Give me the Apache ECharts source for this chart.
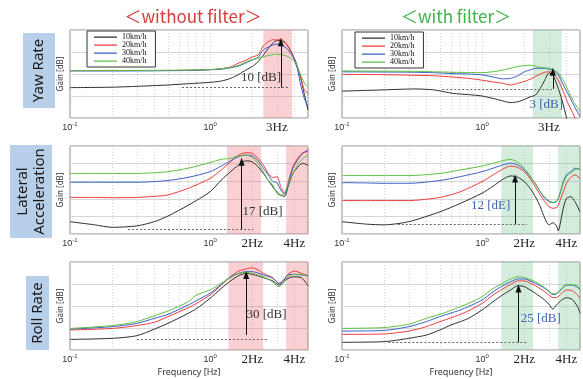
<!DOCTYPE html>
<html><head><meta charset="utf-8">
<script src="https://cdn.jsdelivr.net/npm/echarts@6/dist/echarts.min.js"></script>
<style>html,body{margin:0;padding:0;background:#fff}#c{width:583px;height:379px}</style>
</head><body><div id="c"></div>
<script>
// ---------- data ----------
const speeds = ['10km/h', '20km/h', '30km/h', '40km/h'];

// Yaw rate, without filter
const yawNoFreq = [0.1,0.2,0.3,0.5,0.7,1.0,1.2,1.4,1.6,1.8,2.0,2.2,2.4,2.6,2.8,3.0,3.2,3.5,3.8,4.1,4.4,4.7,5.0];
const yawNo10 = [6.9,7.0,7.2,7.5,7.8,8.1,8.4,9.0,9.9,10.9,11.7,12.8,14.3,15.8,17.0,17.6,17.6,16.8,15.0,12.2,9.6,5.5,1.8];
const yawNo20 = [10.75,10.75,10.8,10.8,10.85,11.0,11.2,11.6,12.5,13.1,13.9,14.3,16.4,17.3,17.8,17.7,17.95,16.8,15.0,12.7,9.5,6.5,5.5];
const yawNo30 = [10.7,10.7,10.7,10.75,10.8,10.95,11.1,11.4,11.8,12.5,13.2,13.75,15.5,16.1,16.6,16.8,16.6,15.9,14.5,12.7,8.0,4.5,2.5];
const yawNo40 = [10.8,10.8,10.8,10.85,10.9,11.0,11.2,11.5,12.0,12.7,13.3,13.6,13.9,14.2,14.4,14.5,14.4,14.1,13.5,12.5,10.0,8.0,7.0];

// Yaw rate, with filter
const yawFiFreq = [0.1,0.2,0.33,0.45,0.62,0.8,1.0,1.25,1.4,1.6,1.8,2.0,2.2,2.4,2.6,2.8,3.0,3.2,3.5,3.8,4.15,4.5,5.0];
const yawFi10 = [6.1,6.4,6.6,6.4,5.6,5.3,5.0,4.3,3.9,3.5,3.7,4.2,4.8,5.2,6.7,8.6,10.2,9.8,6.7,3.0,-2,-6,-10];
const yawFi20 = [9.9,9.85,9.7,9.6,9.3,9.0,8.6,8.1,7.9,7.5,7.9,8.3,8.8,9.4,10.0,10.4,10.5,10.2,8.6,6.0,3.0,0.7,-3];
const yawFi30 = [10.5,10.45,10.4,10.3,10.1,10.0,9.8,9.2,8.9,9.0,9.6,10.5,10.9,11.3,11.3,11.3,11.1,10.9,9.8,7.5,5.2,3.0,0.3];
const yawFi40 = [10.7,10.65,10.6,10.5,10.4,10.35,10.3,10.6,10.9,11.3,11.7,11.9,12.0,11.8,11.5,11.4,11.3,11.0,10.2,8.6,6.0,3.8,1.4];

// Lateral acceleration, without filter
const latNoFreq = [0.1,0.15,0.2,0.3,0.4,0.5,0.7,1.0,1.2,1.4,1.6,1.8,2.0,2.2,2.4,2.6,2.8,3.0,3.2,3.4,3.6,3.9,4.3,4.6,5.0];
const latNo10 = [3.5,2.6,1.9,2.3,3.5,5.1,8.2,12.0,15.3,17.7,19.6,20.8,20.5,19.1,17.2,15.3,13.4,12.0,11.0,10.7,13.4,17.2,19.3,20.1,19.5];
const latNo20 = [10.4,10.4,10.3,10.4,10.7,11.1,13.0,15.8,18.2,20.5,22.4,23.1,22.9,21.5,19.6,17.2,16.0,16.3,13.4,11.6,14.4,19.1,22.0,23.1,23.4];
const latNo30 = [14.7,14.7,14.7,14.7,14.9,15.2,16.1,17.7,19.3,20.8,22.0,22.4,22.2,20.8,18.7,16.8,14.9,14.6,12.5,11.4,13.9,18.7,21.5,22.9,23.9];
const latNo40 = [17.2,17.2,17.2,17.2,17.4,17.7,18.7,20.3,21.2,21.5,22.2,22.4,21.8,20.1,17.7,15.3,13.9,11.5,11.0,11.6,13.9,17.2,20.1,21.5,22.4];

// Lateral acceleration, with filter
const latFiFreq = [0.1,0.15,0.2,0.3,0.5,0.7,1.0,1.2,1.4,1.6,1.8,2.0,2.2,2.4,2.6,2.8,3.0,3.2,3.4,3.5,3.6,3.8,4.0,4.3,4.6,5.0];
const latFi10 = [3.5,2.8,2.6,3.5,6.3,8.7,11.6,13.6,15.5,16.5,16.1,14.9,13.0,10.6,7.8,4.5,2.6,3.2,2.3,0.9,2.6,7.3,10.1,10.6,9.2,6.3];
const latFi20 = [9.5,9.5,9.5,9.5,10.4,12.0,14.9,16.8,18.4,19.3,18.9,17.7,15.8,13.4,11.1,9.2,7.8,7.3,7.5,8.2,9.5,12.0,14.4,16.1,16.8,15.8];
const latFi30 = [14.6,14.5,14.4,14.4,15.2,16.3,17.7,18.7,19.6,20.1,19.6,18.2,16.3,14.4,12.0,10.1,9.2,8.9,9.2,10.1,11.5,14.9,16.8,17.7,18.7,18.4];
const latFi40 = [16.6,16.6,16.6,16.6,17.2,18.2,19.3,20.1,20.8,21.2,20.3,18.7,16.5,14.2,12.0,10.6,9.5,9.0,9.3,10.1,11.5,14.4,16.3,17.4,18.2,18.7];

// Roll rate, without filter
const rollNoFreq = [0.1,0.2,0.3,0.4,0.5,0.7,0.8,1.0,1.2,1.4,1.6,1.8,2.0,2.2,2.4,2.8,3.1,3.3,3.6,4.0,4.5,5.0];
const rollNo10 = [4.8,5.3,6.5,9.5,12.1,16.7,18.8,23.5,28.0,31.4,33.8,34.8,34.4,33.7,32.9,31.4,29.5,30.5,32.5,33.3,32.8,29.2];
const rollNo20 = [9.1,9.8,11.1,12.6,15.2,19.2,21.2,25.0,29.5,33.3,35.9,36.8,37.4,36.4,34.8,32.9,30.3,31.4,34.4,35.9,34.8,33.8];
const rollNo30 = [9.5,10.6,12.1,14.4,16.2,20.5,22.5,25.8,29.8,33.3,34.8,35.6,35.6,35.0,34.1,32.6,30.3,31.0,34.1,34.4,34.1,33.8];
const rollNo40 = [9.8,11.1,12.9,15.6,17.7,22.0,25.0,27.3,30.3,32.9,34.8,35.3,34.8,34.0,33.3,31.0,28.8,30.3,33.3,34.4,34.4,33.3];

// Roll rate, with filter
const rollFiFreq = [0.1,0.2,0.3,0.4,0.5,0.6,0.7,0.8,1.0,1.2,1.4,1.6,1.8,2.0,2.4,2.8,3.0,3.2,3.4,3.7,4.0,4.4,4.8,5.0];
const rollFi10 = [3.5,3.8,5.3,6.8,9.1,11.4,12.9,14.4,18.2,22.0,25.0,27.3,29.2,28.8,25.8,22.7,20.8,18.6,20.5,22.7,23.8,23.0,19.7,16.7];
const rollFi20 = [7.1,7.3,8.6,10.6,12.9,14.6,16.2,17.8,21.2,25.0,27.7,29.8,31.4,31.4,29.2,26.5,25.0,23.8,23.8,25.8,27.3,27.0,25.0,23.5];
const rollFi30 = [8.6,8.9,10.6,12.9,15.2,16.8,18.2,19.8,22.7,26.5,29.2,31.0,32.3,32.3,30.3,28.0,26.5,25.2,25.5,27.8,29.5,29.5,28.5,27.3];
const rollFi40 = [9.8,10.2,11.7,14.4,16.2,18.0,19.7,21.2,24.2,28.0,30.3,32.3,33.3,33.0,31.0,28.3,26.8,25.6,25.8,28.0,29.8,29.8,29.0,27.5];

// highlighted frequency bands [from, to] in Hz
const yawNoBands = [[2.4, 3.85]];
const yawFiBands = [[2.3, 3.7]];
const latNoBands = [[1.32, 2.31], [3.49, 5]];
const latFiBands = [[1.37, 2.31], [3.49, 5]];
const rollNoBands = [[1.35, 2.39], [3.49, 5]];
const rollFiBands = [[1.37, 2.31], [3.49, 5]];

// tick labels
const topTicks = [0.1, 1, 3];
const lowTicks = [0.1, 1, 2, 4];
const gridFreqs = [0.1,0.2,0.3,0.4,0.5,0.6,0.7,0.8,0.9,1,2,3,4,5];

// annotation texts
const annTexts = ['10 [dB]', '3 [dB]', '17 [dB]', '12 [dE]', '30 [dB]', '25 [dB]'];

// ---------- layout / style ----------
const colors = ['#2e2e2e', '#f03a3a', '#3a5fc8', '#5cc040'];
const panels = [
  {freq: yawNoFreq, vals: [yawNo10, yawNo20, yawNo30, yawNo40], bands: yawNoBands, ticks: topTicks, y: [0, 20, 5], band: 'rgba(238,120,130,0.35)',
   arrow: [3.2, 6.9, 17.2], dash: [0.63, 3.73, 6.9], text: [2.31, 9.1], tcol: '#333'},
  {freq: yawFiFreq, vals: [yawFi10, yawFi20, yawFi30, yawFi40], bands: yawFiBands, ticks: topTicks, y: [0, 20, 5], band: 'rgba(120,195,145,0.32)',
   arrow: [3.2, 6.6, 10.5], dash: [0.52, 3.15, 6.6], text: [2.87, 3.0], tcol: '#3b63b5'},
  {freq: latNoFreq, vals: [latNo10, latNo20, latNo30, latNo40], bands: latNoBands, ticks: lowTicks, y: [0, 25, 5], band: 'rgba(238,120,130,0.35)',
   arrow: [1.68, 1.3, 20.5], dash: [0.26, 2.03, 1.3], text: [2.37, 6.5], tcol: '#333'},
  {freq: latFiFreq, vals: [latFi10, latFi20, latFi30, latFi40], bands: latFiBands, ticks: lowTicks, y: [0, 25, 5], band: 'rgba(120,195,145,0.32)',
   arrow: [1.72, 2.8, 15.8], dash: [0.25, 2.08, 2.8], text: [1.15, 8.2], tcol: '#3b63b5'},
  {freq: rollNoFreq, vals: [rollNo10, rollNo20, rollNo30, rollNo40], bands: rollNoBands, ticks: lowTicks, y: [0, 40, 10], band: 'rgba(238,120,130,0.35)',
   arrow: [1.81, 6.8, 34.1], dash: [0.3, 2.6, 4.8], text: [2.53, 15.9], tcol: '#333'},
  {freq: rollFiFreq, vals: [rollFi10, rollFi20, rollFi30, rollFi40], bands: rollFiBands, ticks: lowTicks, y: [0, 40, 10], band: 'rgba(120,195,145,0.32)',
   arrow: [1.82, 3.5, 28.0], dash: [0.214, 2.14, 3.5], text: [2.62, 14.5], tcol: '#3b63b5'}
];
const gridPos = [[70, 30], [342, 30], [70, 146], [342, 146], [70, 262], [342, 262]];

function tickFmt(v) {
  if (v < 0.5) return '{n|10}{s|-1}';
  if (Math.abs(v - 1) < 1e-6) return '{n|10}{s|0}';
  return '{hz|' + Math.round(v) + 'Hz}';
}

const grid = [], xAxis = [], yAxis = [], series = [];
panels.forEach((p, i) => {
  grid.push({left: gridPos[i][0], top: gridPos[i][1], width: 238, height: 88, show: true,
    borderColor: '#8a8a8a', borderWidth: 1, backgroundColor: 'transparent'});
  xAxis.push({type: 'log', logBase: 10, gridIndex: i, min: 0.1, max: 5,
    axisLine: {show: false},
    axisTick: {show: false, customValues: gridFreqs},
    minorTick: {show: false}, minorSplitLine: {show: false},
    splitLine: {show: true, lineStyle: {color: '#d2d2d2', type: [1, 2], width: 1}},
    axisLabel: {customValues: p.ticks, margin: 3, formatter: tickFmt, color: '#333',
      rich: {
        n: {fontSize: 9, fontFamily: 'Liberation Sans', color: '#333', lineHeight: 14},
        s: {fontSize: 6, fontFamily: 'Liberation Sans', color: '#333', verticalAlign: 'top', lineHeight: 8},
        hz: {fontSize: 13, fontFamily: 'Liberation Serif', color: '#222', lineHeight: 14}
      }},
    name: i >= 4 ? 'Frequency [Hz]' : '', nameLocation: 'middle', nameGap: 18,
    nameTextStyle: {fontSize: 9, color: '#333', fontFamily: 'Noto Sans'}
  });
  yAxis.push({type: 'value', gridIndex: i, min: p.y[0], max: p.y[1], interval: p.y[2],
    axisLabel: {show: false}, axisTick: {show: false}, axisLine: {show: false},
    splitLine: {show: true, lineStyle: {color: '#d6d6d6', width: 1}},
    name: 'Gain [dB]', nameLocation: 'middle', nameGap: 5, nameRotate: 90,
    nameTextStyle: {fontSize: 8, color: '#333', fontFamily: 'Noto Sans'}
  });
  // bands
  series.push({type: 'line', xAxisIndex: i, yAxisIndex: i, data: [], z: 1, silent: true,
    markArea: {silent: true, itemStyle: {color: p.band},
      data: p.bands.map(b => [{xAxis: b[0]}, {xAxis: b[1]}])}});
  // curves
  p.vals.forEach((v, k) => {
    series.push({type: 'line', name: speeds[k], xAxisIndex: i, yAxisIndex: i,
      data: p.freq.map((f, j) => [f, v[j]]), symbol: 'none', showSymbol: false,
      smooth: 0.25, z: 3, lineStyle: {width: 1, color: colors[k]}, itemStyle: {color: colors[k]},
      emphasis: {disabled: true}});
  });
  // annotations
  series.push({type: 'line', xAxisIndex: i, yAxisIndex: i, data: [], z: 5, silent: true,
    markLine: {silent: true, symbol: ['none', 'none'], label: {show: false},
      lineStyle: {color: '#111', width: 1, type: 'solid'},
      data: [
        [{coord: [p.dash[0], p.dash[2]], lineStyle: {color: '#666', type: [2, 2], width: 1}}, {coord: [p.dash[1], p.dash[2]]}],
        [{coord: [p.arrow[0], p.arrow[1]], symbol: 'none'}, {coord: [p.arrow[0], p.arrow[2]], symbol: 'triangle', symbolSize: [6, 8]}]
      ]},
    markPoint: {silent: true, symbol: 'rect', symbolSize: 1, itemStyle: {color: 'rgba(0,0,0,0)'},
      label: {show: true, position: 'inside', formatter: annTexts[i], color: p.tcol,
        fontFamily: 'Liberation Serif', fontSize: 13},
      data: [{coord: [p.text[0], p.text[1]]}]}
  });
});

const legendBase = {data: speeds, orient: 'vertical', itemGap: 0, itemWidth: 23, itemHeight: 8,
  icon: 'path://M0,0h0.01v0.01H0zM0,3.4h23v1.3H0zM0,8h0.01v0.01H0z',
  padding: [2, 9, 2, 7], borderColor: '#333', borderWidth: 1, backgroundColor: '#fff',
  textStyle: {fontFamily: 'Liberation Serif', fontSize: 8, color: '#111', lineHeight: 8}, selectedMode: false, z: 10};

const graphic = [
  {type: 'text', x: 193, y: 17, style: {text: '＜without filter＞', font: '17px "Noto Sans CJK JP"', fill: '#d83c3c', align: 'center', verticalAlign: 'middle'}},
  {type: 'text', x: 456, y: 17, style: {text: '＜with filter＞', font: '17px "Noto Sans CJK JP"', fill: '#3cb54a', align: 'center', verticalAlign: 'middle'}},
  {type: 'rect', shape: {x: 23, y: 33, width: 32, height: 75}, style: {fill: '#b8cfe9'}},
  {type: 'text', x: 39, y: 70.5, rotation: Math.PI / 2, style: {text: 'Yaw Rate', font: '15px "Noto Sans"', fill: '#1a1a1a', align: 'center', verticalAlign: 'middle'}},
  {type: 'rect', shape: {x: 10, y: 145, width: 42, height: 93}, style: {fill: '#b8cfe9'}},
  {type: 'text', x: 31, y: 191.5, rotation: Math.PI / 2, style: {text: 'Lateral\nAcceleration', font: '15px "Noto Sans"', lineHeight: 17, fill: '#1a1a1a', align: 'center', verticalAlign: 'middle'}},
  {type: 'rect', shape: {x: 26, y: 276, width: 23, height: 74}, style: {fill: '#b8cfe9'}},
  {type: 'text', x: 37.5, y: 313, rotation: Math.PI / 2, style: {text: 'Roll Rate', font: '15px "Noto Sans"', fill: '#1a1a1a', align: 'center', verticalAlign: 'middle'}}
];

const chart = echarts.init(document.getElementById('c'));
chart.setOption({
  animation: false,
  backgroundColor: '#fff',
  grid, xAxis, yAxis, series, graphic,
  legend: [Object.assign({left: 87, top: 31}, legendBase), Object.assign({left: 355, top: 32}, legendBase)]
});
</script></body></html>
